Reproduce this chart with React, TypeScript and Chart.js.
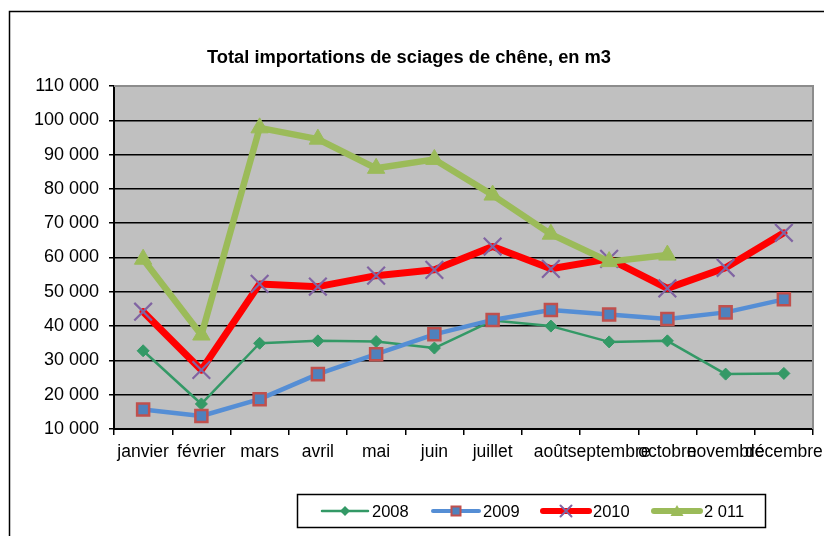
import React, { useEffect, useRef } from "react";
import { Chart, registerables } from "chart.js";

Chart.register(...registerables);

const TITLE = "Total importations de sciages de chêne, en m3";
const months = ["janvier", "février", "mars", "avril", "mai", "juin", "juillet", "août", "septembre", "octobre", "novembre", "décembre"];
const s2008 = [32800, 17300, 35000, 35700, 35500, 33600, 41600, 40000, 35400, 35700, 26000, 26200];
const s2009 = [15700, 13800, 18700, 26000, 31800, 37600, 41800, 44700, 43400, 42100, 44000, 47800];
const s2010 = [44200, 27200, 52300, 51500, 54700, 56400, 63200, 56700, 59600, 51000, 57000, 67200];
const s2011 = [59500, 37400, 97800, 94500, 86000, 88600, 78200, 66800, 58800, 60700, null, null];
const seriesLabels = ["2008", "2009", "2010", "2 011"];
const yMin = 10000;
const yMax = 110000;
const yStep = 10000;

const FONT = '"Liberation Sans", Arial, sans-serif';

const fmt = (v: number) => String(v).replace(/\B(?=(\d{3})+(?!\d))/g, " ");

const C2008 = "#339966";
const C2009 = "#558ED5";
const C2010 = "#FF0000";
const C2011 = "#9BBB59";

function drawLegendMarker(ctx: CanvasRenderingContext2D, kind: number, x: number, y: number) {
  ctx.save();
  if (kind === 0) {
    ctx.fillStyle = C2008;
    ctx.beginPath();
    ctx.moveTo(x, y - 5);
    ctx.lineTo(x + 5, y);
    ctx.lineTo(x, y + 5);
    ctx.lineTo(x - 5, y);
    ctx.closePath();
    ctx.fill();
  } else if (kind === 1) {
    ctx.fillStyle = "#4F81BD";
    ctx.strokeStyle = "#C0504D";
    ctx.lineWidth = 2;
    ctx.fillRect(x - 4.5, y - 4.5, 9, 9);
    ctx.strokeRect(x - 4.5, y - 4.5, 9, 9);
  } else if (kind === 2) {
    ctx.strokeStyle = "#8064A2";
    ctx.lineWidth = 2;
    ctx.beginPath();
    ctx.moveTo(x - 5.5, y - 5.5);
    ctx.lineTo(x + 5.5, y + 5.5);
    ctx.moveTo(x + 5.5, y - 5.5);
    ctx.lineTo(x - 5.5, y + 5.5);
    ctx.stroke();
  } else {
    ctx.fillStyle = C2011;
    ctx.beginPath();
    ctx.moveTo(x, y - 6);
    ctx.lineTo(x + 6.5, y + 5);
    ctx.lineTo(x - 6.5, y + 5);
    ctx.closePath();
    ctx.fill();
  }
  ctx.restore();
}

const framePlugin = {
  id: "frame",
  beforeDraw(chart: any) {
    const { ctx, chartArea: a } = chart;
    ctx.save();
    ctx.fillStyle = "#fff";
    ctx.fillRect(0, 0, chart.width, chart.height);
    ctx.strokeStyle = "#000";
    ctx.lineWidth = 1.5;
    ctx.strokeRect(9.5, 11.5, 860, 600);
    ctx.fillStyle = "#C0C0C0";
    ctx.fillRect(a.left, a.top, a.right - a.left, a.bottom - a.top);
    ctx.fillStyle = "#000";
    ctx.font = "bold 18.3px " + FONT;
    ctx.textAlign = "center";
    ctx.textBaseline = "middle";
    ctx.fillText(TITLE, 409, 58);
    ctx.restore();
  },
  beforeDatasetsDraw(chart: any) {
    const { ctx, chartArea: a } = chart;
    ctx.save();
    ctx.strokeStyle = "#8C8C8C";
    ctx.lineWidth = 2;
    ctx.beginPath();
    ctx.moveTo(a.left, a.top);
    ctx.lineTo(a.right, a.top);
    ctx.lineTo(a.right, a.bottom);
    ctx.stroke();
    ctx.restore();
  },
  afterDraw(chart: any) {
    const { ctx } = chart;
    ctx.save();
    ctx.strokeStyle = "#000";
    ctx.lineWidth = 1.5;
    ctx.strokeRect(297.5, 494.5, 468, 33);
    const starts = [322, 433, 543, 654];
    const y = 511;
    const colors = [C2008, C2009, C2010, C2011];
    const widths = [2.5, 4, 6, 6];
    ctx.lineCap = "round";
    chart.data.datasets.forEach((ds: any, i: number) => {
      const x0 = starts[i];
      ctx.strokeStyle = colors[i];
      ctx.lineWidth = widths[i];
      ctx.beginPath();
      ctx.moveTo(x0, y);
      ctx.lineTo(x0 + 46, y);
      ctx.stroke();
      drawLegendMarker(ctx, i, x0 + 23, y);
      ctx.fillStyle = "#000";
      ctx.font = "16.5px " + FONT;
      ctx.textAlign = "left";
      ctx.textBaseline = "middle";
      ctx.fillText(ds.label, x0 + 50, y + 1);
    });
    ctx.restore();
  },
};

export default function App() {
  const ref = useRef<HTMLCanvasElement>(null);
  useEffect(() => {
    const chart = new Chart(ref.current as HTMLCanvasElement, {
      type: "line",
      data: {
        labels: months,
        datasets: [
          {
            label: seriesLabels[0],
            data: s2008,
            borderColor: C2008,
            backgroundColor: C2008,
            borderWidth: 2.5,
            pointStyle: "rectRot",
            pointRadius: 6,
            pointBackgroundColor: C2008,
            pointBorderColor: C2008,
            pointBorderWidth: 1,
            borderJoinStyle: "round",
            borderCapStyle: "round",
            order: 3,
          },
          {
            label: seriesLabels[1],
            data: s2009,
            borderColor: C2009,
            backgroundColor: "#4F81BD",
            borderWidth: 4.5,
            pointStyle: "rect",
            pointRadius: 8.5,
            pointBackgroundColor: "#4F81BD",
            pointBorderColor: "#C0504D",
            pointBorderWidth: 2.5,
            borderJoinStyle: "round",
            borderCapStyle: "round",
            order: 2,
          },
          {
            label: seriesLabels[2],
            data: s2010,
            borderColor: C2010,
            backgroundColor: "#8064A2",
            borderWidth: 7,
            pointStyle: "crossRot",
            pointRadius: 12.5,
            pointBackgroundColor: "#8064A2",
            pointBorderColor: "#8064A2",
            pointBorderWidth: 2.2,
            borderJoinStyle: "round",
            borderCapStyle: "round",
            order: 1,
          },
          {
            label: seriesLabels[3],
            data: s2011,
            borderColor: C2011,
            backgroundColor: C2011,
            borderWidth: 6.5,
            pointStyle: "triangle",
            pointRadius: 10,
            pointBackgroundColor: C2011,
            pointBorderColor: C2011,
            pointBorderWidth: 1,
            borderJoinStyle: "round",
            borderCapStyle: "round",
            spanGaps: false,
            order: 0,
          },
        ],
      },
      options: {
        animation: false,
        responsive: false,
        devicePixelRatio: 1,
        layout: { autoPadding: false, padding: { left: 0, right: 11, top: 86, bottom: 0 } },
        plugins: {
          legend: { display: false },
          title: { display: false },
          tooltip: { enabled: false },
        },
        scales: {
          x: {
            offset: true,
            grid: {
              offset: true,
              drawOnChartArea: false,
              drawTicks: true,
              tickLength: 6,
              color: "#000",
              lineWidth: 1.5,
            },
            border: { color: "#000", width: 2 },
            ticks: {
              autoSkip: false,
              maxRotation: 0,
              minRotation: 0,
              color: "#000",
              font: { family: FONT, size: 17.5 },
              padding: 7,
            },
            afterFit: (s: any) => {
              s.height = 107;
              s.paddingLeft = 0;
              s.paddingRight = 0;
            },
          },
          y: {
            min: yMin,
            max: yMax,
            ticks: {
              stepSize: yStep,
              color: "#000",
              font: { family: FONT, size: 18 },
              padding: 10,
              callback: (v: any) => fmt(Number(v)),
            },
            grid: { color: "#000", lineWidth: 1.5, tickLength: 5 },
            border: { color: "#000", width: 2 },
            afterFit: (s: any) => {
              s.width = 114;
            },
          },
        },
      } as any,
      plugins: [framePlugin],
    });
    return () => chart.destroy();
  }, []);
  return (
    <div style={{ position: "fixed", left: 0, top: 0, width: 824, height: 536, background: "#fff" }}>
      <canvas ref={ref} width={824} height={536} style={{ display: "block", width: 824, height: 536 }} />
    </div>
  );
}
